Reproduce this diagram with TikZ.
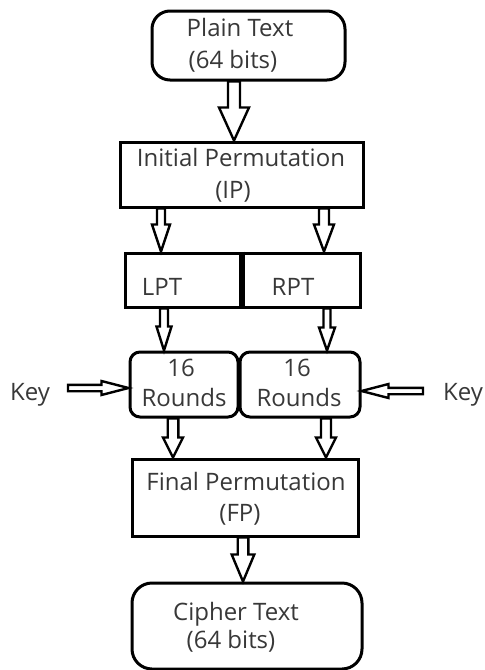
\documentclass[tikz,border=0pt]{standalone}
\usepackage{fontspec}
\setmainfont{Open Sans}
\usetikzlibrary{calc}
\definecolor{txtgray}{HTML}{383838}

% hollow block arrow pointing down: column, start anchor, end anchor,
% shaft half width, head half width, head length (all in pt)
\newcommand\vblock[6]{%
  \draw[blockarrow] let \p1=(#1 |- #2), \p2=(#1 |- #3) in
    (\x1-#4pt,\y1) -- (\x1-#4pt,\y2+#6pt) -- (\x1-#5pt,\y2+#6pt) -- (\x2,\y2)
    -- (\x1+#5pt,\y2+#6pt) -- (\x1+#4pt,\y2+#6pt) -- (\x1+#4pt,\y1) -- cycle;}
% hollow block arrow, horizontal: tail point, target anchor, shaft half width,
% head half width, head length, direction (1 = right, -1 = left)
\newcommand\hblock[6]{%
  \draw[blockarrow] let \p1=(#1), \p2=(#2 |- #1), \n1={#6*#5} in
    (\x1,\y1+#3pt) -- (\x2-\n1 pt,\y1+#3pt) -- (\x2-\n1 pt,\y1+#4pt) -- (\x2,\y1)
    -- (\x2-\n1 pt,\y1-#4pt) -- (\x2-\n1 pt,\y1-#3pt) -- (\x1,\y1-#3pt) -- cycle;}

\tikzset{
  box/.style={draw=black, line width=3pt, fill=white, inner sep=0pt},
  txt/.style={text=txtgray, font=\fontsize{24}{28}\selectfont, inner sep=0pt,
              text height=16.5pt, text depth=0pt, anchor=center},
  blockarrow/.style={draw=black, line width=2.4pt, fill=white, line join=miter},
}

\begin{document}
\begin{tikzpicture}[x=1pt, y=-1pt]
  \useasboundingbox[fill=white] (0,0) rectangle (485,670);

  % boxes
  \node[box, rounded corners=18pt, minimum width=193pt, minimum height=69pt] (plain) at (248.5,45.5) {};
  \node[box, minimum width=243pt, minimum height=65pt] (ip) at (241.5,174.5) {};
  \node[box, minimum width=115pt, minimum height=54pt] (lpt) at (182.5,280) {};
  \node[box, minimum width=120pt, minimum height=54pt] (rpt) at (300,280) {};
  \draw[line width=6pt] (lpt.north east) -- (lpt.south east);
  \node[box, rounded corners=10pt, minimum width=108pt, minimum height=65pt] (rl) at (184,384.5) {};
  \node[box, rounded corners=10pt, minimum width=120pt, minimum height=65pt] (rr) at (300,384.5) {};
  \node[box, minimum width=226pt, minimum height=77pt] (fp) at (245,497.5) {};
  \node[box, rounded corners=20pt, minimum width=230pt, minimum height=86pt] (cipher) at (247,626) {};

  % texts
  \node[txt] (t1a) at (240,28) {Plain Text};
  \node[txt] (t1b) at (233,60) {(64 bits)};
  \node[txt] (t2a) at (241,158) {Initial Permutation};
  \node[txt] (t2b) at (233,190) {(IP)};
  \node[txt] (t3a) at (162,287) {LPT};
  \node[txt] (t3b) at (293,287) {RPT};
  \node[txt] (t4a) at (181,368) {16};
  \node[txt] (t4b) at (184,398) {Rounds};
  \node[txt] (t4c) at (297,368) {16};
  \node[txt] (t4d) at (299,398) {Rounds};
  \node[txt] (keyl) at (30,392) {Key};
  \node[txt] (keyr) at (463,392) {Key};
  \node[txt] (t5a) at (246,482) {Final Permutation};
  \node[txt] (t5b) at (240,513) {(FP)};
  \node[txt] (t6a) at (236,612) {Cipher Text};
  \node[txt] (t6b) at (231,640) {(64 bits)};

  % arrow columns
  \coordinate (cA) at (234,0);
  \coordinate (cB) at (161,0);
  \coordinate (cC) at (324,0);
  \coordinate (cD) at (164,0);
  \coordinate (cE) at (327,0);
  \coordinate (cF) at (173,0);
  \coordinate (cG) at (326,0);
  \coordinate (cH) at (243,0);
  \coordinate (kl) at (68,388);
  \coordinate (kr) at (423,391);

  % block arrows
  \vblock{cA}{plain.south}{ip.north}{6}{15}{33}
  \vblock{cB}{ip.south}{lpt.north}{4}{9}{27}
  \vblock{cC}{ip.south}{rpt.north}{5}{10}{27}
  \vblock{cD}{lpt.south}{rl.north}{4}{7.5}{24}
  \vblock{cE}{rpt.south}{rr.north}{3.5}{8}{23}
  \vblock{cF}{rl.south}{fp.north}{5.3}{10}{20}
  \vblock{cG}{rr.south}{fp.north}{5}{10}{20}
  \vblock{cH}{fp.south}{cipher.north}{5.3}{11.3}{27}
  \hblock{kl}{rl.west}{3.2}{7}{27}{1}
  \hblock{kr}{rr.east}{3.2}{7}{27}{-1}
\end{tikzpicture}
\end{document}
